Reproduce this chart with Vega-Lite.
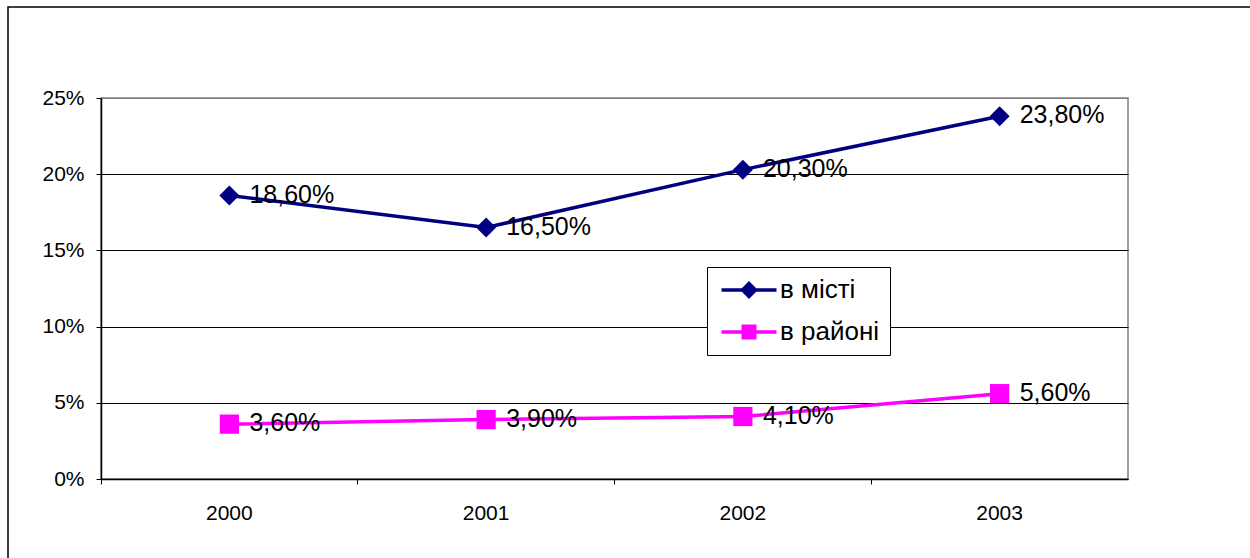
{
  "$schema": "https://vega.github.io/schema/vega-lite/v6.json",
  "autosize": "none",
  "width": 1027,
  "height": 381,
  "padding": {"left": 101, "top": 98, "right": 122, "bottom": 79},
  "background": "white",
  "config": {
    "font": "Liberation Sans",
    "locale": {"number": {"decimal": ",", "thousands": " ", "grouping": [3], "currency": ["", ""]}},
    "view": {"stroke": "#808080", "strokeWidth": 1.5}
  },
  "data": {
    "values": [
      {"year": "2000", "series": "в місті", "value": 0.186},
      {"year": "2001", "series": "в місті", "value": 0.165},
      {"year": "2002", "series": "в місті", "value": 0.203},
      {"year": "2003", "series": "в місті", "value": 0.238},
      {"year": "2000", "series": "в районі", "value": 0.036},
      {"year": "2001", "series": "в районі", "value": 0.039},
      {"year": "2002", "series": "в районі", "value": 0.041},
      {"year": "2003", "series": "в районі", "value": 0.056}
    ]
  },
  "encoding": {
    "x": {
      "field": "year", "type": "nominal", "title": null,
      "scale": {"type": "band", "paddingInner": 0, "paddingOuter": 0},
      "axis": {
        "labelAngle": 0, "labelFontSize": 21, "labelColor": "black", "labelPadding": 18,
        "bandPosition": 0, "tickSize": 5, "tickColor": "black", "tickWidth": 1,
        "domainColor": "black", "domainWidth": 1.5, "grid": false
      }
    },
    "y": {
      "field": "value", "type": "quantitative", "title": null,
      "scale": {"domain": [0, 0.25], "nice": false},
      "axis": {
        "values": [0, 0.05, 0.1, 0.15, 0.2, 0.25], "format": "0%",
        "labelFontSize": 21, "labelColor": "black", "labelPadding": 12,
        "tickSize": 5, "tickColor": "black", "tickWidth": 1,
        "domainColor": "black", "domainWidth": 1.5,
        "grid": true, "gridWidth": 1,
        "gridColor": {"condition": {"test": "datum.value >= 0.25", "value": "#808080"}, "value": "black"}
      }
    }
  },
  "layer": [
    {
      "transform": [{"filter": "datum.series === 'в місті'"}],
      "mark": {"type": "line", "strokeWidth": 3.5, "color": "#000080"},
      "encoding": {}
    },
    {
      "transform": [{"filter": "datum.series === 'в районі'"}],
      "mark": {"type": "line", "strokeWidth": 3.5, "color": "#FF00FF"},
      "encoding": {}
    },
    {
      "transform": [{"filter": "datum.series === 'в місті'"}],
      "mark": {"type": "point", "shape": "diamond", "filled": true, "opacity": 1, "size": 400, "color": "#000080"},
      "encoding": {}
    },
    {
      "transform": [{"filter": "datum.series === 'в районі'"}],
      "mark": {"type": "point", "shape": "square", "filled": true, "opacity": 1, "size": 370, "color": "#FF00FF"},
      "encoding": {}
    },
    {
      "mark": {"type": "text", "align": "left", "baseline": "middle", "dx": 20, "dy": -1, "fontSize": 25, "color": "black"},
      "encoding": {"text": {"field": "value", "type": "quantitative", "format": ".2%"}}
    },
    {
      "mark": {"type": "point", "filled": true, "opacity": 0},
      "encoding": {
        "color": {"field": "series", "type": "nominal",
          "scale": {"domain": ["в місті", "в районі"], "range": ["#000080", "#FF00FF"]},
          "legend": {"title": null, "orient": "none", "legendX": 606, "legendY": 169, "padding": 10,
            "strokeColor": "black", "fillColor": "white", "symbolSize": 400, "symbolOffset": 19,
            "labelOffset": 18, "symbolStrokeWidth": 0, "symbolOpacity": 1, "labelFontSize": 26,
            "labelColor": "black", "rowPadding": 16}},
        "shape": {"field": "series", "type": "nominal",
          "scale": {"domain": ["в місті", "в районі"], "range": [
            "M-2.75,-0.18H-0.72L0,-0.9L0.72,-0.18H2.75V0.18H0.72L0,0.9L-0.72,0.18H-2.75Z",
            "M-2.75,-0.18H-0.75V-0.75H0.75V-0.18H2.75V0.18H0.75V0.75H-0.75V0.18H-2.75Z"]},
          "legend": {"title": null, "orient": "none", "legendX": 606, "legendY": 169, "padding": 10,
            "strokeColor": "black", "fillColor": "white", "symbolSize": 400, "symbolOffset": 19,
            "labelOffset": 18, "symbolStrokeWidth": 0, "symbolOpacity": 1, "labelFontSize": 26,
            "labelColor": "black", "rowPadding": 16}}
      }
    },
    {
      "mark": {"type": "point", "filled": true, "opacity": 0},
      "encoding": {
        "fill": {"field": "value", "type": "quantitative",
          "scale": {"range": ["rgba(255,255,255,0)", "rgba(255,255,255,0)"]},
          "legend": {"title": null, "orient": "none", "legendX": -93, "legendY": -91, "direction": "horizontal",
            "gradientLength": 1400, "gradientThickness": 700, "gradientStrokeColor": "black",
            "gradientStrokeWidth": 1.5, "labelOpacity": 0, "labelExpr": "''", "padding": 0}}
      }
    }
  ]
}
